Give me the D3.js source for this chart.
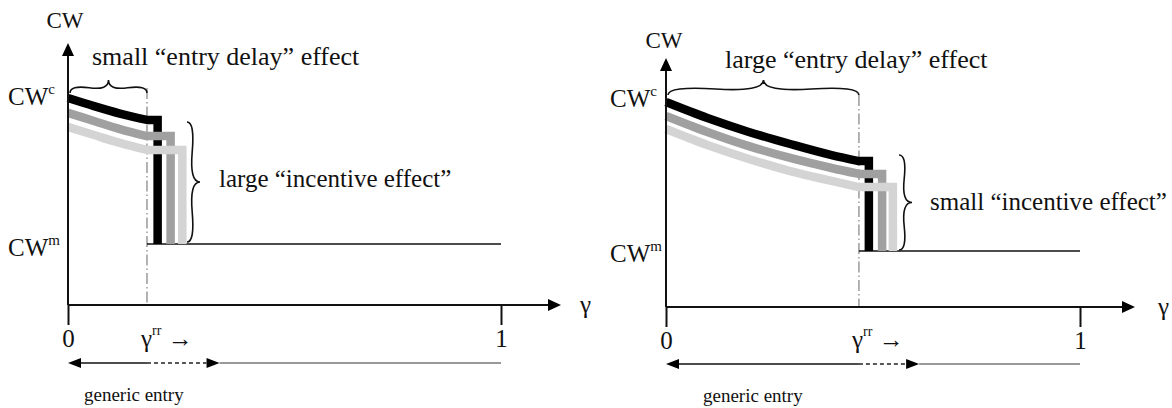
<!DOCTYPE html>
<html>
<head>
<meta charset="utf-8">
<script src="https://cdn.jsdelivr.net/npm/d3@7"></script>
<style>
  body { margin: 0; background: #fff; }
  text { font-family: "Liberation Serif", "Times New Roman", serif; fill: #111; }
</style>
</head>
<body>
<svg id="chart" width="1172" height="408"></svg>
<script>
// three welfare paths per panel, drawn black / grey / light grey
var seriesNames = ["high", "mid", "low"];
var seriesColors = ["#000000", "#a0a0a0", "#d4d4d4"];

// left panel: small entry delay, large incentive effect
var leftGamma = [0, 0.06, 0.12, 0.1824];
var leftHigh = [1.000, 0.961, 0.925, 0.894];
var leftMid = [0.928, 0.889, 0.850, 0.816];
var leftLow = [0.860, 0.821, 0.783, 0.749];
var leftDrop = [0.207, 0.237, 0.264];
var leftGammaRR = 0.1824;
var leftShiftEnd = 0.32;
var leftCWm = 0.295;

// right panel: large entry delay, small incentive effect
var rightGamma = [0, 0.1, 0.2, 0.3, 0.4, 0.466];
var rightHigh = [1.000, 0.922, 0.854, 0.795, 0.741, 0.712];
var rightMid = [0.932, 0.854, 0.785, 0.727, 0.678, 0.649];
var rightLow = [0.868, 0.790, 0.722, 0.663, 0.615, 0.585];
var rightDrop = [0.490, 0.522, 0.548];
var rightGammaRR = 0.466;
var rightShiftEnd = 0.58;
var rightCWm = 0.273;

var xTickValues = [0, 1];
var xTickLabels = ["0", "1"];
var braceTop = ["small \u201centry delay\u201d effect", "large \u201centry delay\u201d effect"];
var braceSide = ["large \u201cincentive effect\u201d", "small \u201cincentive effect\u201d"];

var panels = [
    {
        gamma: leftGamma, series: [leftHigh, leftMid, leftLow], drop: leftDrop,
        rr: leftGammaRR, shiftEnd: leftShiftEnd, cwm: leftCWm,
        topText: braceTop[0], sideText: braceSide[0],
        x0: 68, x1: 501, yBase: 305, yTop: 98, tipX: 561, tipY: 43,
        cwX: 65, cwY: 28, cwLabX: 8, cwcY: 105, cwmY: 256,
        topTx: 92, topTy: 65, braceY: 93, braceW: 13,
        sideX: 187, sideTop: 122, sideBot: 242, sideW: 13, sideTx: 219, sideTy: 187,
        gLabX: 580, gLabY: 313, rrX: 141, tickY: 347, arrowY: 363,
        genX: 84, genY: 401, dashTop: 88
    },
    {
        gamma: rightGamma, series: [rightHigh, rightMid, rightLow], drop: rightDrop,
        rr: rightGammaRR, shiftEnd: rightShiftEnd, cwm: rightCWm,
        topText: braceTop[1], sideText: braceSide[1],
        x0: 666, x1: 1080, yBase: 307, yTop: 102, tipX: 1135, tipY: 58,
        cwX: 664, cwY: 48, cwLabX: 610, cwcY: 107, cwmY: 262,
        topTx: 725, topTy: 68, braceY: 95, braceW: 15,
        sideX: 899, sideTop: 155, sideBot: 250, sideW: 13, sideTx: 930, sideTy: 210,
        gLabX: 1158, gLabY: 315, rrX: 852, tickY: 348, arrowY: 364,
        genX: 703, genY: 402, dashTop: 95
    }
];

var svg = d3.select("#chart");

function bracePath(x1, y1, x2, y2, w, q) {
    var len = Math.sqrt((x1 - x2) * (x1 - x2) + (y1 - y2) * (y1 - y2));
    var dx = (x1 - x2) / len, dy = (y1 - y2) / len;
    var qx1 = x1 + q * w * dy, qy1 = y1 - q * w * dx;
    var qx2 = (x1 - .25 * len * dx) + (1 - q) * w * dy, qy2 = (y1 - .25 * len * dy) - (1 - q) * w * dx;
    var tx1 = (x1 - .5 * len * dx) + w * dy, ty1 = (y1 - .5 * len * dy) - w * dx;
    var qx3 = x2 + q * w * dy, qy3 = y2 - q * w * dx;
    var qx4 = (x1 - .75 * len * dx) + (1 - q) * w * dy, qy4 = (y1 - .75 * len * dy) - (1 - q) * w * dx;
    return "M" + x1 + "," + y1 + "Q" + qx1 + "," + qy1 + " " + qx2 + "," + qy2 +
        "T" + tx1 + "," + ty1 + "M" + x2 + "," + y2 + "Q" + qx3 + "," + qy3 + " " + qx4 + "," + qy4 +
        "T" + tx1 + "," + ty1;
}

function arrowHead(g, tipX, tipY, dir, len, half, color) {
    var pts;
    if (dir === "right") pts = [[tipX, tipY], [tipX - len, tipY - half], [tipX - len, tipY + half]];
    else if (dir === "left") pts = [[tipX, tipY], [tipX + len, tipY - half], [tipX + len, tipY + half]];
    else pts = [[tipX, tipY], [tipX - half, tipY + len], [tipX + half, tipY + len]];
    g.append("path")
        .attr("d", "M" + pts.join("L") + "Z")
        .attr("fill", color)
        .attr("stroke", "none");
}

function cwLabel(g, x, y, sup) {
    var t = g.append("text").attr("x", x).attr("y", y).attr("font-size", 25);
    t.append("tspan").text("CW");
    t.append("tspan").attr("font-size", 15).attr("dy", -11).text(sup);
}

panels.forEach(function(p) {
    var g = svg.append("g");
    var x = d3.scaleLinear().domain([0, 1]).range([p.x0, p.x1]);
    var y = d3.scaleLinear().domain([0, 1]).range([p.yBase, p.yTop]);

    // dash-dot marker at gamma^rr
    g.append("line")
        .attr("x1", x(p.rr)).attr("x2", x(p.rr))
        .attr("y1", p.dashTop).attr("y2", p.yBase)
        .attr("stroke", "#9a9a9a")
        .attr("stroke-width", 1.5)
        .attr("stroke-dasharray", "11,3,1.5,3");

    // monopoly welfare level after entry
    g.append("line")
        .attr("x1", x(p.rr)).attr("x2", x(1))
        .attr("y1", y(p.cwm)).attr("y2", y(p.cwm))
        .attr("stroke", "#111")
        .attr("stroke-width", 1.6);

    var line = d3.line()
        .x(function(d) { return x(d[0]); })
        .y(function(d) { return y(d[1]); })
        .curve(d3.curveMonotoneX);

    p.series.forEach(function(vals, i) {
        var pts = p.gamma.map(function(gm, j) { return [gm, vals[j]]; });
        var last = vals[vals.length - 1];
        var d = line(pts) +
            "L" + x(p.drop[i]) + "," + y(last) +
            "L" + x(p.drop[i]) + "," + y(p.cwm);
        g.append("path")
            .attr("class", "path-" + seriesNames[i])
            .attr("d", d)
            .attr("fill", "none")
            .attr("stroke", seriesColors[i])
            .attr("stroke-width", 8.5)
            .attr("stroke-linejoin", "miter")
            .attr("stroke-linecap", "butt");
    });

    // axes
    var axis = d3.axisBottom(x)
        .tickValues(xTickValues)
        .tickFormat(function(d, i) { return xTickLabels[i]; })
        .tickSizeInner(20)
        .tickSizeOuter(0)
        .tickPadding(4);
    var ax = g.append("g")
        .attr("transform", "translate(0," + p.yBase + ")")
        .call(axis);
    ax.select(".domain").remove();
    ax.selectAll(".tick line").attr("stroke", "#111").attr("stroke-width", 2);
    ax.selectAll(".tick text")
        .attr("font-size", 25)
        .attr("font-family", "Liberation Serif, Times New Roman, serif")
        .attr("fill", "#111");

    g.append("line")
        .attr("x1", x(0)).attr("x2", p.tipX - 10)
        .attr("y1", p.yBase).attr("y2", p.yBase)
        .attr("stroke", "#111").attr("stroke-width", 2);
    arrowHead(g, p.tipX, p.yBase, "right", 13, 6, "#000");

    g.append("line")
        .attr("x1", x(0)).attr("x2", x(0))
        .attr("y1", p.yBase).attr("y2", p.tipY + 10)
        .attr("stroke", "#111").attr("stroke-width", 2);
    arrowHead(g, x(0), p.tipY, "up", 13, 6, "#000");

    // braces
    g.append("path")
        .attr("d", bracePath(x(p.rr), p.braceY, x(0) + 2, p.braceY, p.braceW, 0.6))
        .attr("fill", "none").attr("stroke", "#111").attr("stroke-width", 1.6);
    g.append("path")
        .attr("d", bracePath(p.sideX, p.sideBot, p.sideX, p.sideTop, p.sideW, 0.6))
        .attr("fill", "none").attr("stroke", "#111").attr("stroke-width", 1.6);

    // labels
    g.append("text").attr("x", p.cwX).attr("y", p.cwY)
        .attr("text-anchor", "middle").attr("font-size", 23).text("CW");
    cwLabel(g, p.cwLabX, p.cwcY, "c");
    cwLabel(g, p.cwLabX, p.cwmY, "m");
    g.append("text").attr("x", p.topTx).attr("y", p.topTy)
        .attr("font-size", 26).text(p.topText);
    g.append("text").attr("x", p.sideTx).attr("y", p.sideTy)
        .attr("font-size", 25).text(p.sideText);
    g.append("text").attr("x", p.gLabX).attr("y", p.gLabY)
        .attr("font-size", 25).text("\u03b3");

    var rr = g.append("text").attr("x", p.rrX).attr("y", p.tickY).attr("font-size", 25);
    rr.append("tspan").text("\u03b3");
    rr.append("tspan").attr("font-size", 14).attr("dy", -12).text("rr");
    rr.append("tspan").attr("dy", 12).text(" \u2192");

    // generic entry range arrows
    var ay = p.arrowY;
    g.append("line")
        .attr("x1", x(0) + 10).attr("x2", x(p.rr))
        .attr("y1", ay).attr("y2", ay)
        .attr("stroke", "#111").attr("stroke-width", 1.6);
    arrowHead(g, x(0), ay, "left", 13, 5, "#000");
    g.append("line")
        .attr("x1", x(p.rr)).attr("x2", x(p.shiftEnd))
        .attr("y1", ay).attr("y2", ay)
        .attr("stroke", "#222").attr("stroke-width", 1.3)
        .attr("stroke-dasharray", "4,3");
    arrowHead(g, x(p.shiftEnd) + 13, ay, "right", 13, 5, "#000");
    g.append("line")
        .attr("x1", x(p.shiftEnd) + 13).attr("x2", x(1))
        .attr("y1", ay).attr("y2", ay)
        .attr("stroke", "#999").attr("stroke-width", 2);

    g.append("text").attr("x", p.genX).attr("y", p.genY)
        .attr("font-size", 19).text("generic entry");
});
</script>
</body>
</html>
